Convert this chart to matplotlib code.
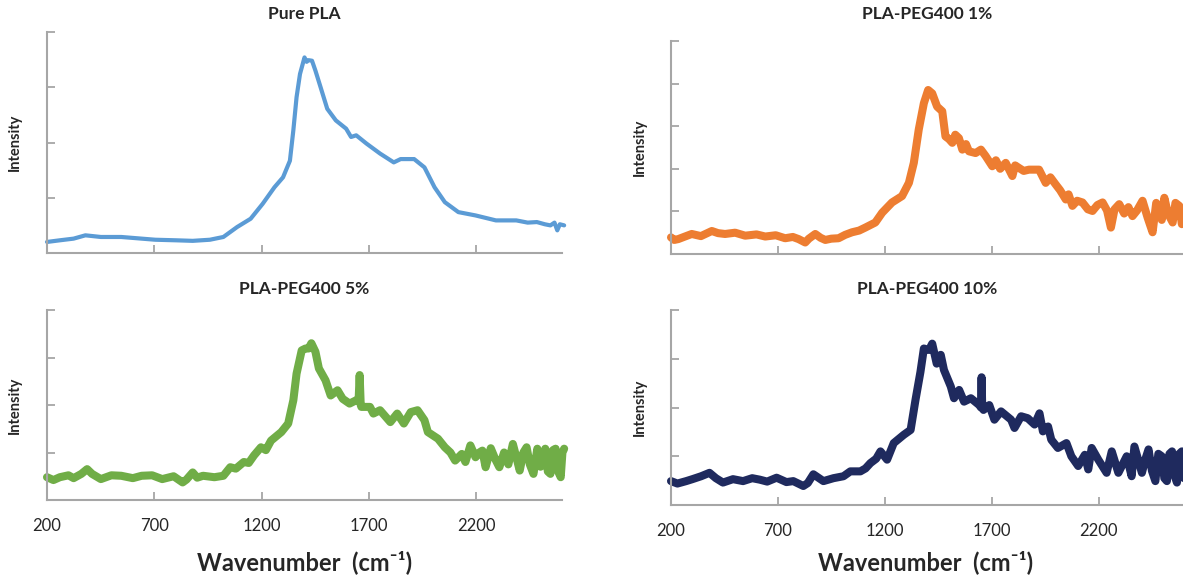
import numpy as np
import matplotlib
matplotlib.use("Agg")
import matplotlib.pyplot as plt

plt.rcParams['font.family'] = ['Lato', 'DejaVu Sans']

# wavenumber (cm-1) / intensity (a.u.)
pla_x = [200, 260, 324, 379, 451, 546, 641, 705, 800, 879, 959, 1022, 1086, 1149,
         1205, 1260, 1300, 1332, 1348, 1363, 1379, 1400, 1410, 1419, 1435, 1451, 1475,
         1506, 1546, 1594, 1617, 1641, 1689, 1752, 1816, 1848, 1911, 1959, 2006, 2054,
         2117, 2197, 2292, 2387, 2440, 2483, 2520, 2546, 2565, 2578, 2590, 2610]
pla_y = [0.20, 0.23, 0.26, 0.32, 0.29, 0.29, 0.26, 0.24, 0.23, 0.22, 0.24, 0.29, 0.47, 0.62,
         0.89, 1.19, 1.37, 1.67, 2.22, 2.82, 3.24, 3.54, 3.46, 3.49, 3.48, 3.30, 3.00,
         2.61, 2.40, 2.25, 2.10, 2.13, 1.98, 1.80, 1.64, 1.70, 1.70, 1.55, 1.19, 0.92,
         0.74, 0.68, 0.59, 0.59, 0.55, 0.56, 0.52, 0.50, 0.55, 0.41, 0.52, 0.50]

peg1_x = [200, 215, 234, 260, 297, 340, 391, 420, 453, 500, 547, 600, 641, 690, 734, 770,
          797, 828, 845, 875, 900, 922, 950, 984, 1015, 1047, 1080, 1109, 1156, 1188, 1234,
          1281, 1313, 1336, 1359, 1383, 1403, 1422, 1445, 1469, 1484, 1500, 1516, 1530, 1547,
          1563, 1580, 1594, 1625, 1650, 1672, 1703, 1720, 1740, 1766, 1797, 1810, 1828, 1850,
          1875, 1922, 1953, 1975, 2000, 2020, 2047, 2060, 2078, 2100, 2125, 2150, 2172, 2195,
          2219, 2240, 2258, 2275, 2297, 2320, 2340, 2359, 2380, 2406, 2430, 2453, 2470, 2484,
          2496, 2508, 2525, 2547, 2560, 2578, 2590, 2600]
peg1_y = [0.39, 0.33, 0.35, 0.40, 0.47, 0.42, 0.54, 0.49, 0.47, 0.50, 0.43, 0.46, 0.41, 0.44,
          0.37, 0.40, 0.35, 0.27, 0.36, 0.47, 0.38, 0.33, 0.36, 0.37, 0.45, 0.51, 0.55, 0.62,
          0.74, 0.97, 1.21, 1.36, 1.67, 2.14, 2.92, 3.54, 3.85, 3.77, 3.46, 3.35, 2.76, 2.70,
          2.61, 2.80, 2.72, 2.45, 2.58, 2.41, 2.37, 2.45, 2.30, 2.06, 2.20, 2.00, 2.14, 1.83,
          2.08, 2.02, 1.95, 1.98, 1.98, 1.67, 1.80, 1.63, 1.50, 1.28, 1.40, 1.13, 1.25, 1.21,
          1.05, 1.01, 1.15, 1.21, 1.02, 0.62, 1.05, 1.17, 0.95, 1.10, 0.89, 1.02, 1.25, 0.85,
          0.51, 1.20, 1.09, 0.80, 1.32, 0.95, 0.74, 1.20, 1.13, 0.70, 1.00]

peg5_x = [200, 230, 260, 300, 324, 360, 387, 410, 451, 500, 546, 600, 641, 690, 737, 790,
          832, 850, 879, 900, 927, 980, 1022, 1054, 1080, 1117, 1140, 1165, 1197, 1220, 1244,
          1292, 1324, 1348, 1363, 1387, 1405, 1419, 1432, 1451, 1467, 1498, 1522, 1554, 1578,
          1610, 1641, 1652, 1657, 1662, 1665, 1705, 1721, 1752, 1800, 1832, 1863, 1895, 1927,
          1959, 1975, 2022, 2054, 2080, 2102, 2133, 2150, 2173, 2197, 2215, 2229, 2244, 2268,
          2290, 2308, 2330, 2350, 2371, 2390, 2403, 2420, 2435, 2450, 2467, 2485, 2500, 2522,
          2534, 2546, 2558, 2570, 2582, 2594, 2602, 2610]
peg5_y = [0.48, 0.42, 0.48, 0.52, 0.46, 0.55, 0.65, 0.55, 0.44, 0.52, 0.51, 0.46, 0.51, 0.52,
          0.44, 0.50, 0.37, 0.43, 0.58, 0.47, 0.51, 0.48, 0.51, 0.69, 0.66, 0.80, 0.78, 0.94,
          1.11, 1.05, 1.25, 1.43, 1.61, 2.10, 2.66, 3.15, 3.19, 3.19, 3.30, 3.12, 2.77, 2.52,
          2.20, 2.31, 2.13, 2.03, 2.10, 2.08, 2.63, 2.00, 1.96, 1.96, 1.82, 1.89, 1.64, 1.82,
          1.61, 1.85, 1.89, 1.68, 1.43, 1.29, 1.11, 1.00, 0.83, 0.97, 0.80, 1.15, 0.90, 1.00,
          1.04, 0.69, 1.09, 0.85, 0.69, 1.00, 0.75, 1.18, 0.85, 0.62, 1.00, 1.11, 0.75, 0.55,
          1.08, 0.70, 1.08, 0.60, 0.55, 1.05, 1.08, 0.60, 0.48, 1.00, 1.08]

peg10_x = [200, 230, 271, 300, 341, 380, 410, 443, 490, 537, 580, 615, 650, 694, 740, 772,
           819, 840, 866, 913, 960, 1007, 1039, 1086, 1110, 1133, 1160, 1180, 1211, 1242, 1289,
           1321, 1344, 1367, 1383, 1407, 1422, 1443, 1462, 1477, 1509, 1524, 1548, 1571, 1603,
           1642, 1650, 1653, 1656, 1662, 1689, 1713, 1744, 1791, 1807, 1838, 1869, 1901, 1924,
           1940, 1964, 1979, 2010, 2050, 2073, 2105, 2136, 2152, 2168, 2199, 2238, 2262, 2293,
           2332, 2355, 2368, 2403, 2420, 2434, 2450, 2466, 2480, 2496, 2508, 2520, 2532, 2544,
           2556, 2567, 2578, 2590, 2600]
peg10_y = [0.49, 0.44, 0.49, 0.53, 0.59, 0.66, 0.55, 0.46, 0.53, 0.49, 0.55, 0.52, 0.48, 0.56,
           0.47, 0.49, 0.39, 0.45, 0.63, 0.49, 0.55, 0.59, 0.69, 0.69, 0.75, 0.86, 0.95, 1.10,
           0.93, 1.27, 1.44, 1.54, 2.16, 2.73, 3.21, 3.18, 3.31, 2.90, 3.08, 2.77, 2.43, 2.19,
           2.36, 2.12, 2.19, 2.05, 2.00, 2.62, 2.00, 1.95, 2.05, 1.75, 1.92, 1.75, 1.58, 1.82,
           1.78, 1.65, 1.88, 1.51, 1.61, 1.34, 1.17, 1.27, 1.00, 0.80, 1.03, 0.73, 1.17, 0.93,
           0.66, 1.10, 0.66, 1.00, 0.59, 1.20, 0.66, 0.95, 1.14, 0.70, 0.49, 1.05, 1.00, 0.55,
           0.49, 1.05, 1.10, 0.60, 0.46, 1.05, 1.10, 0.55]

titles = ["Pure PLA", "PLA-PEG400 1%", "PLA-PEG400 5%", "PLA-PEG400 10%"]
colors = ["#5B9BD5", "#ED7D31", "#70AD47", "#1F2A5E"]
y_tops = [4, 5, 4, 4]
x_ticks = [200, 700, 1200, 1700, 2200]

fig = plt.figure(figsize=(11.83, 5.79), dpi=100)
W, H = 1183, 579
# axes boxes in pixels: left, top, right, bottom
boxes = [(47, 32, 562, 253), (671, 41, 1184, 254),
         (47, 310, 562, 500), (671, 310, 1184, 505)]
series = [(pla_x, pla_y, 3.0), (peg1_x, peg1_y, 5.8),
          (peg5_x, peg5_y, 5.8), (peg10_x, peg10_y, 5.8)]
title_y = [14, 14, 289, 289]
ylabel_x = [15, 640, 15, 640]
text_col = '#262626'

for i, (l, t, r, b) in enumerate(boxes):
    ax = fig.add_axes([l / W, 1 - b / H, (r - l) / W, (b - t) / H])
    x, y, lw = series[i]
    ax.plot(x, y, color=colors[i], lw=lw, solid_joinstyle='round',
            solid_capstyle='round', clip_on=False)
    ax.set_xlim(200, 2600)
    ax.set_ylim(0, y_tops[i])
    ax.set_xticks(x_ticks)
    ax.set_yticks(range(0, y_tops[i] + 1))
    ax.set_yticklabels([])
    for s in ['top', 'right']:
        ax.spines[s].set_visible(False)
    for s in ['left', 'bottom']:
        ax.spines[s].set_color('#A6A6A6')
        ax.spines[s].set_linewidth(1.5)
    ax.tick_params(direction='in', length=6, width=1.3, color='#A6A6A6',
                   labelsize=12, labelcolor=text_col, pad=13)
    if i < 2:
        ax.set_xticklabels([])
    else:
        fig.text((l + 1183 * 0 + (r - l) / 2 - (2 if i == 3 else 0)) / W, 1 - 562 / H,
                 "Wavenumber  (cm\u207b\u00b9)", fontsize=17, fontweight='bold',
                 color=text_col, ha='center', va='center')
    fig.text((l + r) / 2 / W, 1 - title_y[i] / H, titles[i], fontsize=12.5,
             fontweight='bold', color=text_col, ha='center', va='center')
    fig.text(ylabel_x[i] / W, 1 - (t + b) / 2 / H, "Intensity", fontsize=10.5,
             fontweight='bold', color=text_col, ha='center', va='center', rotation=90)

fig.savefig("out.png", dpi=100)
